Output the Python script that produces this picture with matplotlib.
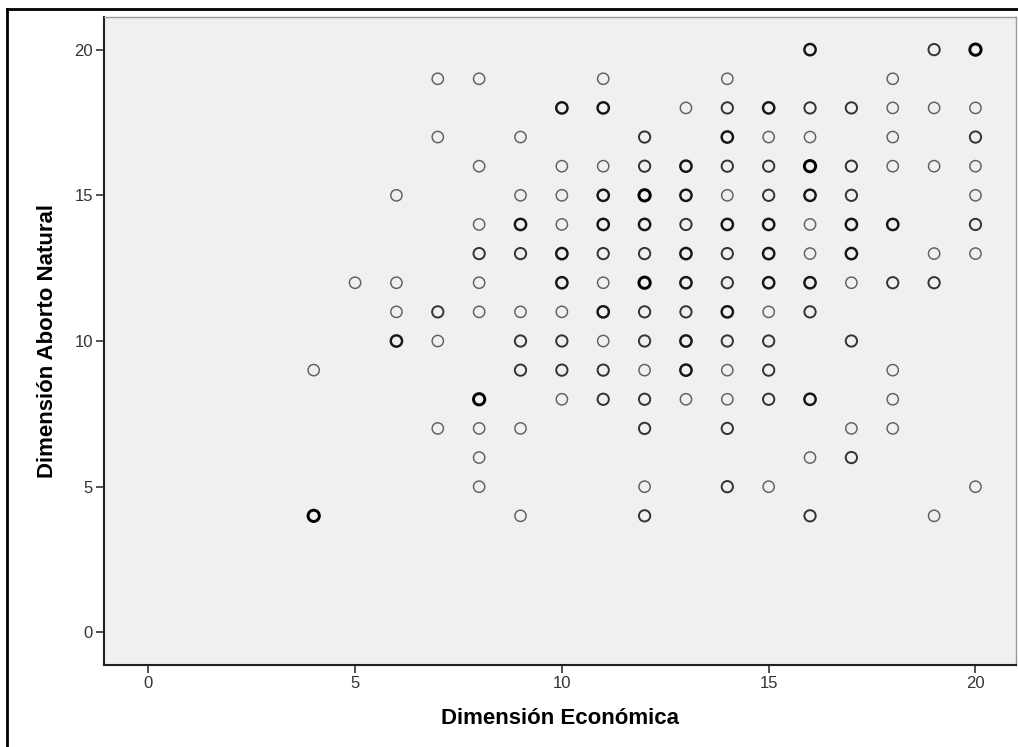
"""Scatter plot: Dimensión Económica vs Dimensión Aborto Natural (SPSS style)."""

import matplotlib

matplotlib.use("Agg")
import matplotlib.pyplot as plt
from matplotlib.lines import Line2D
import numpy as np

plt.rcParams["font.family"] = ["Liberation Sans", "DejaVu Sans"]

# data: (x, y, overlap weight), row by row (y = 20 .. 4)
x_econ = [
    16, 19, 20,
    7, 8, 11, 14, 18,
    10, 11, 13, 14, 15, 16, 17, 18, 19, 20,
    7, 9, 12, 14, 15, 16, 18, 20,
    8, 10, 11, 12, 13, 14, 15, 16, 17, 18, 19, 20,
    6, 9, 10, 11, 12, 13, 14, 15, 16, 17, 20,
    8, 9, 10, 11, 12, 13, 14, 15, 16, 17, 18, 20,
    8, 9, 10, 11, 12, 13, 14, 15, 16, 17, 19, 20,
    5, 6, 8, 10, 11, 12, 13, 14, 15, 16, 17, 18, 19,
    6, 7, 8, 9, 10, 11, 12, 13, 14, 15, 16,
    6, 7, 9, 10, 11, 12, 13, 14, 15, 17,
    4, 9, 10, 11, 12, 13, 14, 15, 18,
    8, 10, 11, 12, 13, 14, 15, 16, 18,
    7, 8, 9, 12, 14, 17, 18,
    8, 16, 17,
    8, 12, 14, 15, 20,
    4, 9, 12, 16, 19,
]
y_aborto = [
    20, 20, 20,
    19, 19, 19, 19, 19,
    18, 18, 18, 18, 18, 18, 18, 18, 18, 18,
    17, 17, 17, 17, 17, 17, 17, 17,
    16, 16, 16, 16, 16, 16, 16, 16, 16, 16, 16, 16,
    15, 15, 15, 15, 15, 15, 15, 15, 15, 15, 15,
    14, 14, 14, 14, 14, 14, 14, 14, 14, 14, 14, 14,
    13, 13, 13, 13, 13, 13, 13, 13, 13, 13, 13, 13,
    12, 12, 12, 12, 12, 12, 12, 12, 12, 12, 12, 12, 12,
    11, 11, 11, 11, 11, 11, 11, 11, 11, 11, 11,
    10, 10, 10, 10, 10, 10, 10, 10, 10, 10,
    9, 9, 9, 9, 9, 9, 9, 9, 9,
    8, 8, 8, 8, 8, 8, 8, 8, 8,
    7, 7, 7, 7, 7, 7, 7,
    6, 6, 6,
    5, 5, 5, 5, 5,
    4, 4, 4, 4, 4,
]
overlap = [
    3, 2, 4,
    1, 1, 1, 1, 1,
    3, 3, 1, 2, 3, 2, 2, 1, 1, 1,
    1, 1, 2, 3, 1, 1, 1, 2,
    1, 1, 1, 2, 3, 2, 2, 4, 2, 1, 1, 1,
    1, 1, 1, 3, 4, 3, 1, 2, 3, 2, 1,
    1, 3, 1, 3, 3, 2, 3, 3, 1, 3, 3, 2,
    2, 2, 3, 2, 2, 3, 2, 3, 1, 3, 1, 1,
    1, 1, 1, 3, 1, 4, 3, 2, 3, 3, 1, 2, 2,
    1, 2, 1, 1, 1, 3, 2, 2, 3, 1, 2,
    3, 1, 2, 2, 1, 2, 3, 2, 2, 2,
    1, 2, 2, 2, 1, 3, 1, 2, 1,
    4, 1, 2, 2, 1, 1, 2, 3, 1,
    1, 1, 1, 2, 2, 1, 1,
    1, 1, 2,
    1, 1, 2, 1, 1,
    4, 1, 2, 2, 1,
]

x_ticks = [0, 5, 10, 15, 20]
y_ticks = [0, 5, 10, 15, 20]

# darker / thicker ring = more overlapping cases
EDGE = {1: "#606060", 2: "#333333", 3: "#161616", 4: "#000000"}
WIDTH = {1: 1.05, 2: 1.4, 3: 1.75, 4: 2.1}

fig = plt.figure(figsize=(10.18, 7.47), dpi=100)
ax = fig.add_axes([104 / 1018, 1 - 665 / 747, 912 / 1018, 648 / 747])
ax.set_facecolor("#f0f0f0")

w = np.array(overlap)
ax.scatter(
    x_econ,
    y_aborto,
    s=66,
    facecolors="none",
    edgecolors=[EDGE[k] for k in w],
    linewidths=[WIDTH[k] for k in w],
    zorder=3,
)

ax.set_xlim(-1.07, 20.98)
ax.set_ylim(-1.12, 21.12)
ax.set_xticks(x_ticks)
ax.set_yticks(y_ticks)
ax.tick_params(direction="out", length=6, width=1.2, color="#333333",
               labelsize=12, labelcolor="#333333", pad=2)

for side in ("left", "bottom"):
    ax.spines[side].set_color("#222222")
    ax.spines[side].set_linewidth(1.5)
for side in ("top", "right"):
    ax.spines[side].set_color("#999999")
    ax.spines[side].set_linewidth(1.0)

ax.set_xlabel("Dimensión Económica", fontsize=16, fontweight="bold", labelpad=12)
ax.set_ylabel("Dimensión Aborto Natural", fontsize=16, fontweight="bold", labelpad=12)

# outer frame of the original screenshot (left and top edges)
fig.add_artist(Line2D([7 / 1018, 7 / 1018], [0, 1 - 9 / 747], color="black", lw=2,
                      transform=fig.transFigure))
fig.add_artist(Line2D([7 / 1018, 1], [1 - 9 / 747, 1 - 9 / 747], color="black", lw=2,
                      transform=fig.transFigure))

fig.savefig("out.png", dpi=100)
plt.close(fig)
